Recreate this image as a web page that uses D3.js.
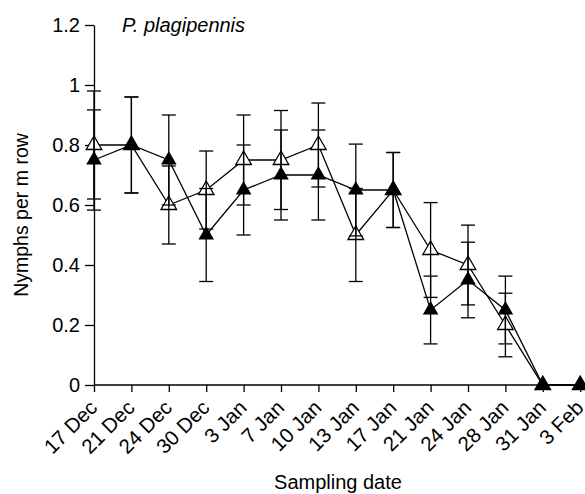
<!DOCTYPE html>
<html>
<head>
<meta charset="utf-8">
<script src="https://cdn.jsdelivr.net/npm/d3@7"></script>
<style>
  body { margin: 0; background: #fff; }
  svg { display: block; font-family: "Liberation Sans", Arial, sans-serif; }
</style>
</head>
<body>
<svg id="chart"></svg>
<script>
const dates = ["17 Dec", "21 Dec", "24 Dec", "30 Dec", "3 Jan", "7 Jan", "10 Jan",
    "13 Jan", "17 Jan", "21 Jan", "24 Jan", "28 Jan", "31 Jan", "3 Feb"];
// open triangles
const openMean = [0.8, 0.8, 0.6, 0.65, 0.75, 0.75, 0.8, 0.5, 0.65, 0.45, 0.4, 0.2, 0, 0];
const openSE = [0.18, 0.16, 0.13, 0.13, 0.15, 0.165, 0.14, 0.155, 0.125, 0.158, 0.133, 0.106, 0, 0];
// filled triangles
const filledMean = [0.75, 0.8, 0.75, 0.5, 0.65, 0.7, 0.7, 0.65, 0.65, 0.25, 0.35, 0.25, 0, 0];
const filledSE = [0.167, 0.16, 0.15, 0.155, 0.15, 0.15, 0.15, 0.153, 0.125, 0.113, 0.126, 0.113, 0, 0];
const yTicks = [0, 0.2, 0.4, 0.6, 0.8, 1, 1.2];
const yTickLabels = ["0", "0.2", "0.4", "0.6", "0.8", "1", "1.2"];

const width = 585, height = 494;
const svg = d3.select("#chart").attr("width", width).attr("height", height);

const x = d3.scalePoint().domain(dates).range([94, 580.2]);
const y = d3.scaleLinear().domain([0, 1.2]).range([385, 25]);

// axes
const xAxis = svg.append("g")
    .attr("transform", "translate(0,385)")
    .call(d3.axisBottom(x).tickSize(7).tickSizeOuter(0).tickFormat(""));
xAxis.select(".domain").attr("d", "M94,0H585");
xAxis.selectAll("line, path").attr("stroke", "#000").attr("stroke-width", 1.3);

xAxis.selectAll(".tick").append("text")
    .attr("transform", "translate(4,24) rotate(-45)")
    .attr("text-anchor", "end")
    .attr("fill", "#000")
    .attr("font-size", 20.5)
    .text(d => d);

const yAxis = svg.append("g")
    .attr("transform", "translate(94,0)")
    .call(d3.axisLeft(y).tickValues(yTicks).tickSize(9).tickSizeOuter(0)
        .tickFormat((d, i) => yTickLabels[i]));
yAxis.selectAll("line, path").attr("stroke", "#000").attr("stroke-width", 1.3);
yAxis.selectAll("text").attr("font-size", 20).attr("fill", "#000").attr("x", -14);

// connecting lines
const line = d3.line().x((d, i) => x(dates[i])).y(d => y(d));
[openMean, filledMean].forEach(m => {
    svg.append("path")
        .datum(m)
        .attr("fill", "none")
        .attr("stroke", "#000")
        .attr("stroke-width", 1.3)
        .attr("d", line);
});

// markers
const tri = d3.symbol().type(d3.symbolTriangle).size(105);
svg.selectAll(".open").data(openMean).enter().append("path")
    .attr("transform", (d, i) => `translate(${x(dates[i])},${y(d)})`)
    .attr("d", tri)
    .attr("fill", "#fff")
    .attr("stroke", "#000")
    .attr("stroke-width", 1.3);

// error bars
function errorBars(mean, se) {
    const g = svg.append("g").attr("stroke", "#000").attr("stroke-width", 1.3);
    mean.forEach((m, i) => {
        if (!se[i]) return;
        const cx = x(dates[i]);
        g.append("line").attr("x1", cx).attr("x2", cx)
            .attr("y1", y(m - se[i])).attr("y2", y(m + se[i]));
        [m - se[i], m + se[i]].forEach(v => {
            g.append("line").attr("x1", cx - 7).attr("x2", cx + 7)
                .attr("y1", y(v)).attr("y2", y(v));
        });
    });
}
errorBars(openMean, openSE);
errorBars(filledMean, filledSE);

svg.selectAll(".filled").data(filledMean).enter().append("path")
    .attr("transform", (d, i) => `translate(${x(dates[i])},${y(d)})`)
    .attr("d", tri)
    .attr("fill", "#000");

// titles
svg.append("text")
    .attr("x", 122).attr("y", 32)
    .attr("font-size", 20).attr("font-style", "italic")
    .text("P. plagipennis");

svg.append("text")
    .attr("transform", "translate(28,215) rotate(-90)")
    .attr("text-anchor", "middle")
    .attr("font-size", 19.5)
    .text("Nymphs per m row");

svg.append("text")
    .attr("x", 338).attr("y", 489)
    .attr("text-anchor", "middle")
    .attr("font-size", 20)
    .text("Sampling date");
</script>
</body>
</html>
